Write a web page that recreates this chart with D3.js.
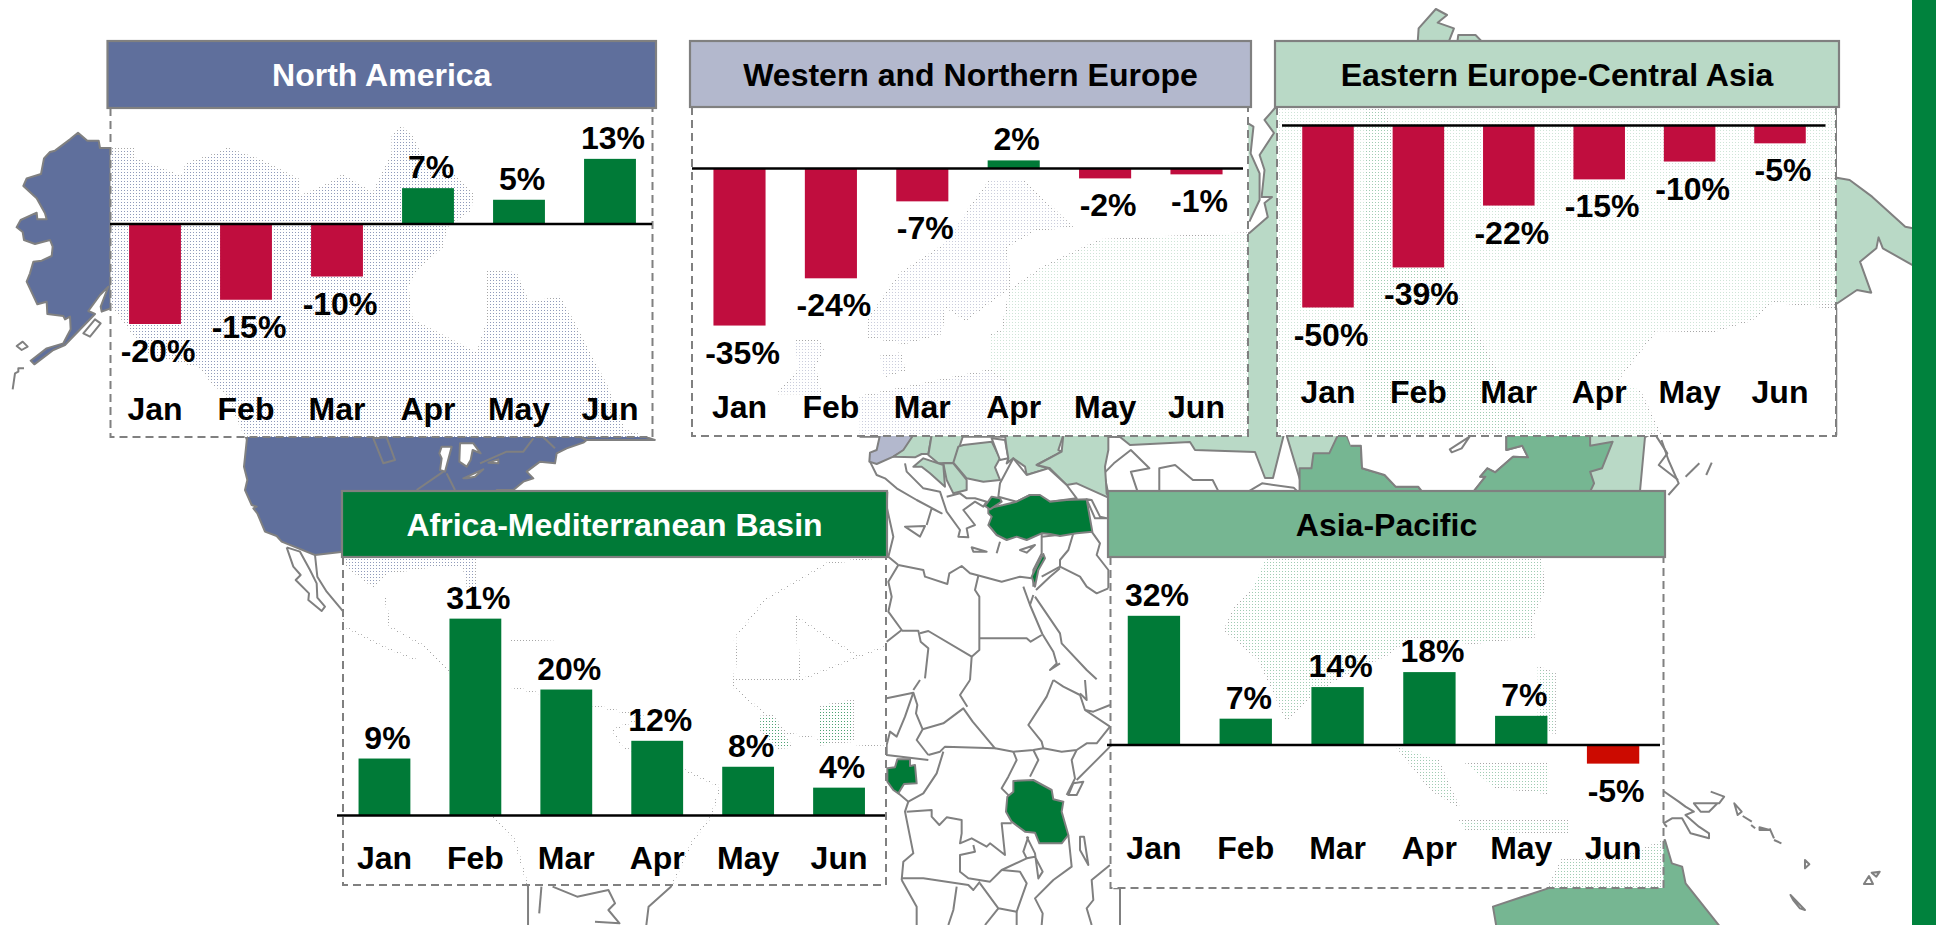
<!DOCTYPE html>
<html><head><meta charset="utf-8">
<style>html,body{margin:0;padding:0;background:#fff;overflow:hidden}svg{display:block}text{font-family:"Liberation Sans",Arial,sans-serif;font-weight:700}</style>
<script src="https://cdn.jsdelivr.net/npm/d3@7"></script></head><body>
<svg id="c" width="1936" height="925"></svg>
<script>
// ---------- data ----------
const months = ["Jan","Feb","Mar","Apr","May","Jun"];
const naValues = [-19.8,-15,-10.4,7.1,4.8,12.9];
const wneValues = [-34.9,-24.4,-7.3,1.8,-2.2,-1.3];
const eecaValues = [-50,-39,-22,-14.8,-9.9,-4.9];
const ambValues = [9,31.1,19.9,11.8,7.7,4.4];
const apValues = [31.9,6.5,14.3,18,7.2,-4.6];

// ---------- colours ----------
const GREEN="#007A37", CRIMSON="#C00D3E", RED="#CC0A00", GREY="#808080";
const BLUE="#5F6F9C", LAV="#B3B8CD", PALE="#B9D9C6", MID="#76B692";

// ---------- panel layout ----------
const panels = [
 {title:"North America",values:naValues,head:[107.5,41,656,108],box:[110.5,108,652.5,437],axis:[110,652],range:[109.5,655.5],zero:224,k:5.05,tickY:420,fill:BLUE,ink:"#fff",neg:CRIMSON},
 {title:"Western and Northern Europe",values:wneValues,head:[690,41,1251,107],box:[692,107,1248,436],axis:[692,1243],range:[693.8,1242.2],zero:168.5,k:4.5,tickY:418,fill:LAV,ink:"#000",neg:CRIMSON},
 {title:"Eastern Europe-Central Asia",values:eecaValues,head:[1275,41,1839,107],box:[1277,107,1836,436],axis:[1282,1825.5],range:[1282.8,1825.2],zero:125.5,k:3.64,tickY:403,fill:PALE,ink:"#000",neg:CRIMSON},
 {title:"Africa-Mediterranean Basin",values:ambValues,head:[342,491,887,557],box:[343,557,886,885],axis:[337,885],range:[339,884.5],zero:815.5,k:6.33,tickY:869,fill:GREEN,ink:"#fff",neg:CRIMSON},
 {title:"Asia-Pacific",values:apValues,head:[1108,491,1665,557],box:[1110.5,557,1663.5,888],axis:[1107,1660],range:[1108,1659],zero:745,k:4.05,tickY:859,fill:MID,ink:"#000",neg:RED}
];

// ---------- decorative background map (hand-traced outline sketches; not data) ----------
const F1={o:[0,20],s:[2.306,3]},F2={o:[680,0],s:[2.45,3]},F3={o:[1260,0],s:[2.32,3]},F4={o:[220,440],s:[2.24,3]},F5={o:[860,440],s:[1.4535,3]},
      F7={o:[860,430],s:[3,3]},F8={o:[880,680],s:[3,3]},F9={o:[230,430],s:[3,3]},F10={o:[1100,425],s:[2.53,3]},F11={o:[1640,780],s:[2.97,3]},F12={o:[0,120],s:[3,3]},P={o:[0,0],s:[1,1]};
const mapShapes = [
 // North America
 [F12,BLUE,1,"332,84 300,84 296,62 262,62 234,38 210,58 165,92 150,96 132,115 123,162 80,175 70,198 110,235 135,280 140,298 112,298 110,278 62,300 50,322 68,336 72,360 105,372 150,360 158,380 155,408 125,422 100,425 90,460 80,485 112,553 140,545 142,582 190,588 195,598 210,590 212,628 190,670 140,685 92,722 103,733 160,690 195,675 285,582 265,573 300,525 325,500 302,560 305,575 332,565 400,580 400,84"],
 [F1,BLUE,1,"255,385 340,430 420,470 430,430 500,400 525,385 600,420 690,480 690,530 760,490 790,465 860,520 890,440 905,400 905,350 925,320 950,350 980,430 1045,460 1090,520 1085,570 1030,620 1020,680 960,750 940,800 950,900 1040,960 1100,1000 1125,900 1125,750 1190,760 1220,850 1290,830 1320,900 1340,950 1400,1100 1440,1230 1510,1260 570,1260 520,1120 490,1090 460,1040 340,1000 255,850"],
 [F9,BLUE,1,"52,15 42,110 52,150 45,180 65,225 80,230 70,235 82,250 105,305 140,318 155,335 255,375 340,365 350,410 430,470 470,430 600,410 700,410 715,480 740,480 735,385 800,180 850,180 880,155 910,145 890,125 930,95 975,100 980,70 1010,55 1060,38 1070,30 1040,15"],
 [F9,"#fff",1,"635,50 665,50 645,125 630,120 635,85 628,70"],
 [F9,"#fff",1,"690,40 730,40 752,70 728,60 722,90 710,110 688,95"],
 [F9,"#fff",1,"700,145 760,118 735,140 710,145"],
 [F9,"#fff",1,"775,98 805,88 805,100"],
 [F9,"none",1,"430,25 460,100 495,90 470,22"],
 [F9,"none",0,"560,180 640,125"],[F9,"none",0,"650,130 675,180"],[F9,"none",0,"750,100 830,65 880,65 910,25"],[F9,"none",0,"940,22 975,55"],
 [F12,"none",1,"285,598 302,610 290,625 270,650 250,640"],[F12,"none",1,"50,678 68,665 83,680 65,690"],[F12,"none",0,"72,745 55,745 55,755 45,760 38,808"],
 // Mexico and the Americas under the Africa panel
 [F9,"none",0,"170,352 190,410 212,435 197,450 237,490 235,510 275,543 285,530 262,503 260,460 240,420 210,365 170,352"],
 [F9,"none",0,"255,375 262,440 290,485 340,545 345,590 460,650 560,690"],
 [F4,"none",0,"370,470 380,560 460,620 530,720"],[F4,"none",0,"650,600 750,605"],
 [F4,"none",0,"650,740 850,800 950,830 880,870 900,920 1040,990 1120,1040 1100,1130 1060,1200 1010,1340 960,1400 955,1455"],
 [F4,"none",0,"610,1130 660,1200 690,1340 690,1455"],[F4,"none",0,"720,1340 715,1420"],[F4,"none",0,"745,1340 800,1370 870,1350 885,1390 870,1410 895,1450 840,1445"],
 // West Africa under the Africa panel
 [F4,"none",0,"1160,600 1150,740 1210,810 1270,880 1400,910 1490,920"],[F4,"none",0,"1150,600 1220,480 1360,370 1490,350"],[F4,"none",0,"1290,530 1300,720 1430,650 1490,620"],[F4,"none",0,"1290,530 1430,650"],[F4,"none",0,"1300,720 1150,720"],
 [F4,GREEN,0,"1340,800 1420,780 1420,900 1340,915"],[F4,GREEN,0,"1210,830 1240,825 1280,920 1250,925 1210,870"],
 // Europe under its panel
 [F2,LAV,0,"700,640 760,540 840,540 960,680 870,690 800,740 810,860 700,960 650,920 640,1000 550,1030 460,1010 460,960 540,820 640,740"],
 [F2,LAV,0,"280,1020 340,1020 350,1050 330,1100 345,1180 240,1180 290,1110"],
 [F2,LAV,0,"490,1070 540,1060 550,1110 500,1130"],
 [F2,PALE,0,"1392,370 1405,380 1398,460 1420,520 1420,600 1395,665"],
 [F2,LAV,0,"440,1190 800,1100 850,1180 950,1310 440,1310"],
 // Russia and Central Asia
 [P,PALE,1,"1264.5,120 1274,133 1259.6,155 1264.5,170 1261.6,197 1272,197 1264.5,203 1267.8,217 1249.4,233 1100,240 1043,267 1010,290 1002,330 990,335 990,370 1010,385 1000,436 1120,437 1130,445 1190,442 1195,450 1255,452 1265,478 1273,478 1285,430 1300,480 1440,491 1500,491 1560,491 1600,491 1640,491 1645,437 1670,425 1700,405 1790,420 1836,305 1836,108 1275,108"],
 [F3,PALE,1,"366,125 368,85 408,27 434,45 412,68 450,85 438,125"],
 [F3,PALE,1,"458,125 460,105 500,105 515,125"],
 [F3,PALE,1,"1338,533 1368,540 1420,590 1497,680 1535,690 1560,722 1528,745 1520,800 1445,745 1435,712 1430,745 1392,785 1418,878 1385,870 1337,912 1300,912 1300,533"],
 [F3,"#fff",0,"830,1140 920,990 1050,995 1140,960 1190,905 1337,925 1337,1305 930,1305 880,1170"],
 [P,MID,0,"1365,108 1385,110 1400,180 1480,340 1530,434 1365,434"],
 [F10,"#fff",1,"10,145 35,115 78,75 125,130 78,140 95,200 20,200"],
 [F10,"#fff",1,"150,130 190,120 235,165 285,165 300,200 150,200"],
 [F10,"#fff",1,"375,200 410,175 490,188 500,200"],
 [F10,MID,1,"505,200 505,130 535,130 540,85 580,85 600,35 605,20 620,20 635,62 660,62 663,130 720,150 748,185 805,185 815,200"],
 [F10,"#fff",0,"625,30 1028,30 1028,75 1068,62 1083,97 1045,95 1000,142 980,130 962,155 975,155 945,200 815,200 805,185 748,185 720,150 663,130 660,62 635,62"],
 [F10,MID,1,"945,200 975,155 962,155 980,130 1000,142 1045,95 1083,97 1068,62 1028,75 1028,20 1240,20 1240,62 1297,50 1270,130 1240,140 1250,175 1240,200"],
 [F10,"none",1,"885,73 935,35 915,70 890,82"],
 // Eastern Europe blocks
 [F7,LAV,1,"60,15 50,60 30,68 28,95 50,102 100,80 135,60 160,15"],
 [F7,PALE,1,"130,60 160,15 215,15 205,72 185,72 165,82 100,80"],
 [F7,PALE,1,"215,15 310,15 300,45 285,98 235,100 205,75"],
 [F7,PALE,1,"295,50 310,45 395,35 420,85 405,112 420,150 370,155 320,145 280,98"],
 [F7,PALE,1,"250,100 280,100 320,150 320,180 280,190 260,150"],
 [F7,PALE,1,"160,110 190,85 250,105 255,170 210,130 185,110"],
 [F7,"#fff",1,"395,25 435,30 445,85 420,90"],
 [F7,PALE,1,"435,15 610,15 595,60 605,65 530,105 565,115 500,135 495,110 460,85 440,100 445,85 440,55"],
 [F7,PALE,1,"610,15 745,15 745,60 735,110 740,190 750,205 650,160 620,165 570,115 530,105 605,65"],
 [F7,"#fff",1,"415,200 420,160 460,85 500,135 565,115 620,165 650,205 570,215 510,195 470,215"],
 // Balkans, Mediterranean, Middle East
 [F7,"none",0,"30,95 50,135 75,145 110,175 170,210 245,250 215,235 200,285"],
 [F7,"none",1,"135,290 195,288 180,320"],
 [F7,"none",0,"135,100 140,125 190,175 240,185 260,245 300,300 295,320 325,322 320,295 345,285 310,240 345,215 370,230 380,215 345,205 320,205 300,190 260,200"],
 [F7,"none",1,"335,352 380,365 340,365"],[F7,"none",1,"480,360 525,345 500,368"],[F7,"none",0,"420,335 410,370"],
 [F7,"none",0,"115,405 190,420 195,440 262,462 268,430 305,408 330,430 350,435 425,455 480,440 515,445"],
 [F7,"none",0,"115,405 85,455 95,500 85,545 125,600 80,635"],[F7,"none",0,"115,405 85,380 100,320 80,230 82,185"],
 [F7,"none",0,"355,437 345,480 358,500 358,660 335,680"],
 [F7,"none",0,"360,625 500,625 512,635 545,615"],
 [F7,"none",0,"125,602 175,602 182,635 205,655 195,745"],[F7,"none",0,"180,610 205,603 335,680 330,750"],
 [F7,"none",0,"490,470 510,525 520,495"],[F7,"none",0,"525,500 600,610 605,640 680,720 710,748"],[F7,"none",0,"510,525 547,612 580,665 590,700 570,720 600,700"],
 [F7,"none",0,"545,310 545,370 520,420 520,470"],[F7,"none",0,"545,320 640,310 625,360 600,390 600,410 545,440"],
 [F7,"none",0,"600,410 660,440 680,470 710,490 745,475"],[F7,"none",0,"695,305 720,340 710,375 745,420 745,475"],[F7,"none",0,"528,480 570,440 600,415"],
 [F7,"none",1,"680,208 695,210 720,260 740,265 705,265"],
 [F7,GREEN,1,"385,235 430,225 470,215 510,195 540,195 570,215 620,210 680,208 697,305 650,310 600,318 570,312 545,310 500,330 470,320 440,330 410,315 385,285 395,260 385,250"],
 [F7,GREEN,1,"375,228 395,200 420,205 425,215 390,238"],
 [F7,GREEN,1,"550,372 555,385 535,420 525,470 515,440 535,400"],
 // Central and East Africa
 [F8,"none",0,"20,55 100,38 112,75 108,100 128,148 110,180 145,225"],[F8,"none",0,"100,38 75,110 50,170 30,155 20,195 20,225 145,240"],
 [F8,"none",0,"128,148 190,130 250,85 278,125 345,205 195,200 180,215 145,225"],[F8,"none",0,"120,0 100,30"],[F8,"none",0,"270,0 240,45 262,80"],
 [F8,"none",0,"520,0 500,50 445,135 485,185 490,205 460,210 400,215 345,205"],[F8,"none",0,"490,205 545,215 590,210 620,190 650,190 690,140 615,90 600,45 550,20 520,0"],
 [F8,"none",0,"590,210 575,240 585,295 560,345"],[F8,"none",0,"690,200 640,250 590,300"],[F8,"none",0,"615,90 640,95 690,75"],[F8,"none",0,"600,40 620,60 615,0"],
 [F8,"none",0,"190,215 170,280 130,340 85,365 55,340"],[F8,"none",0,"85,365 75,395 100,520 70,545 65,600"],
 [F8,"none",0,"80,395 155,390 155,410 178,435 200,412 245,420 245,460 240,490 275,475 320,500 330,490 375,525 365,430 395,430"],
 [F8,"none",0,"400,215 410,240 385,290 365,325 395,355"],[F8,"none",0,"460,210 475,240 450,290"],
 [F8,"none",0,"280,495 285,515 240,525 240,575 265,595 330,605 365,570 440,535 430,515 445,470"],
 [F8,"none",0,"65,595 130,595 265,615 280,630 300,605"],[F8,"none",0,"65,600 110,680 110,735"],[F8,"none",0,"230,620 220,690 205,735"],
 [F8,"none",0,"300,610 355,685 410,695 440,610 420,575 365,570"],[F8,"none",0,"355,685 315,735"],
 [F8,"none",0,"440,535 465,530 488,575 475,595 465,520 440,470"],[F8,"none",0,"565,465 575,560 520,600 465,655 488,700 485,735"],[F8,"none",0,"410,695 410,735"],
 [F8,"none",0,"690,555 635,600 640,660 620,685 635,735"],[F8,"none",1,"600,470 612,470 625,555 600,510"],[F8,"none",0,"700,625 720,625 720,735"],[F8,"none",1,"580,310 610,305 590,345 565,345"],
 [F8,GREEN,1,"22,265 45,262 52,238 90,238 90,258 105,255 110,310 72,312 55,340 40,330 22,305"],
 [F8,GREEN,1,"400,303 460,300 515,330 520,358 550,365 545,395 565,465 545,490 478,490 465,458 435,455 395,425 378,395 382,350 400,335"],
 // Asia under its panel, islands and Australia
 [F5,MID,0,"590,355 990,355 995,450 975,540 980,590 890,610 800,590 770,640 690,720 650,780 620,840 580,660 530,570 545,500 570,450"],
 [F5,MID,0,"780,920 830,1050 870,1100 840,960"],[F5,MID,0,"880,970 1000,970 1000,1060 920,1040"],[F5,MID,0,"985,680 1010,700 1010,880 985,860"],[F5,MID,0,"870,1140 1030,1140 1030,1180 880,1170"],
 [F5,MID,1,"1170,1200 1180,1270 1195,1280 1200,1330 1250,1460 925,1460 920,1400 1000,1345 1020,1260 1100,1260"],
 [F5,"none",0,"1165,0 1175,60 1190,130 1175,165"],[F5,"none",0,"1200,110 1220,70"],[F5,"none",0,"1230,105 1238,68"],
 [F3,"none",0,"920,1310 945,1360 925,1395 970,1440"],
 [F11,"none",0,"65,30 115,65 135,80 160,95 135,105 175,140 205,160 205,175 150,160 125,115 95,115 70,130 80,140"],
 [F11,"none",0,"210,35 250,50 235,70 160,70 180,95 205,95 230,70"],
 [F11,"none",1,"280,70 302,95 290,105"],[F11,"none",0,"305,108 332,125"],[F11,"none",0,"330,135 342,145"],[F11,"none",1,"355,142 385,150 355,150"],[F11,"none",0,"385,145 398,175"],[F11,"none",0,"398,180 420,190"],
 [F11,"none",1,"490,240 503,253 490,265"],[F11,"none",1,"665,312 680,288 692,312"],[F11,"none",1,"688,278 712,275 702,290"],[F11,"none",1,"447,345 490,390 475,385 455,360"]
];

// ---------- draw ----------
const svg = d3.select("#c");
const defs = svg.append("defs");
const pat = defs.append("pattern").attr("id","stipple").attr("width",3).attr("height",3).attr("patternUnits","userSpaceOnUse");
pat.append("path").attr("fill","#fff").attr("fill-rule","evenodd").attr("d","M0 0H3V3H0Z M1 1H2V2H1Z");
pat.append("path").attr("fill","#fff").attr("fill-opacity",0.3).attr("d","M1 1H2V2H1Z");

const toPage = (f,p)=>{const [x,y]=p.split(",").map(Number);return [f.o[0]+x/f.s[0],f.o[1]+y/f.s[1]];};
const mapLine = d3.line();
svg.append("g").attr("class","map").selectAll("path").data(mapShapes).join("path")
  .attr("d",d=>mapLine(d[3].split(" ").map(p=>toPage(d[0],p)))+(d[2]?"Z":""))
  .attr("fill",d=>d[1]).attr("stroke",GREY).attr("stroke-width",2).attr("stroke-linejoin","round");

svg.append("rect").attr("x",1912).attr("y",0).attr("width",24).attr("height",925).attr("fill","#00823D");

panels.forEach(p=>{
  const g = svg.append("g").attr("class","panel");
  const [bx0,by0,bx1,by1]=p.box, [hx0,hy0,hx1,hy1]=p.head;
  g.append("path").attr("d",`M${bx0},${by0}V${by1}H${bx1}V${by0}`).attr("fill","url(#stipple)")
    .attr("stroke",GREY).attr("stroke-width",2).attr("stroke-dasharray","8,5");
  g.append("rect").attr("x",hx0).attr("y",hy0).attr("width",hx1-hx0).attr("height",hy1-hy0)
    .attr("fill",p.fill).attr("stroke",GREY).attr("stroke-width",2.2);
  g.append("text").attr("x",(hx0+hx1)/2).attr("y",(hy0+hy1)/2+11.5).attr("text-anchor","middle")
    .attr("font-size",32).attr("fill",p.ink).text(p.title);

  const x = d3.scaleBand().domain(months).range(p.range).paddingInner(0.43).paddingOuter(0.215);
  const y = d3.scaleLinear().domain([-100,100]).range([p.zero+100*p.k,p.zero-100*p.k]);
  const rows = months.map((m,i)=>({m,v:p.values[i]}));

  g.selectAll("rect.bar").data(rows).join("rect").attr("class","bar")
    .attr("x",d=>x(d.m)).attr("width",x.bandwidth())
    .attr("y",d=>y(Math.max(0,d.v))).attr("height",d=>Math.abs(y(d.v)-y(0)))
    .attr("fill",d=>d.v<0?p.neg:GREEN);

  g.append("line").attr("x1",p.axis[0]).attr("x2",p.axis[1]).attr("y1",y(0)).attr("y2",y(0))
    .attr("stroke","#000").attr("stroke-width",2.4);

  g.selectAll("text.val").data(rows).join("text").attr("class","val")
    .attr("x",d=>x(d.m)+x.bandwidth()/2+3).attr("y",d=>d.v<0?y(d.v)+38:y(d.v)-10)
    .attr("text-anchor","middle").attr("font-size",32).attr("fill","#000")
    .text(d=>Math.round(d.v)+"%");

  const ax = g.append("g").attr("transform",`translate(0,${p.tickY})`).call(d3.axisBottom(x).tickSize(0).tickPadding(0));
  ax.select(".domain").remove();
  ax.selectAll("text").attr("dy",0).attr("y",0).attr("font-size",32).attr("font-family",'"Liberation Sans",Arial,sans-serif').attr("font-weight",700).attr("fill","#000");
});
</script></body></html>
